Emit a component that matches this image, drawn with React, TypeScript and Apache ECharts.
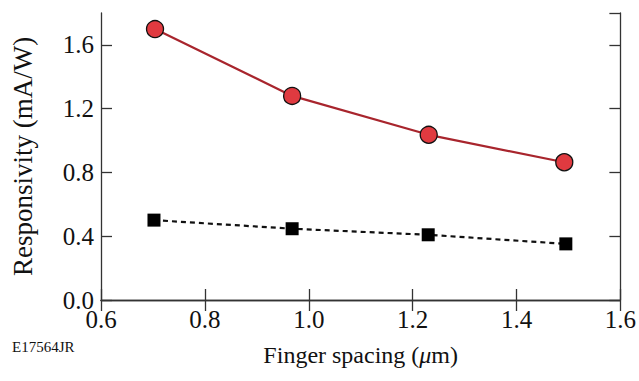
import React, { useEffect, useRef } from "react";
import * as echarts from "echarts";

const spacing = [0.704, 0.968, 1.231, 1.492];
const redValues = [1.699, 1.28, 1.036, 0.864];
const blackSpacing = [0.702, 0.968, 1.23, 1.495];
const blackValues = [0.501, 0.447, 0.409, 0.352];
const xTicks = [0.6, 0.8, 1.0, 1.2, 1.4, 1.6];
const yTicks = [0.0, 0.4, 0.8, 1.2, 1.6];

const FONT = "'Liberation Serif', 'DejaVu Serif', serif";
const AXIS_COLOR = "#333";

export default function App() {
  const ref = useRef<HTMLDivElement>(null);
  useEffect(() => {
    if (!ref.current) return;
    const chart = echarts.init(ref.current, undefined, { renderer: "svg" });
    const axisLine = { show: true, lineStyle: { color: AXIS_COLOR, width: 1.3 } };
    const axisTick = { show: true, inside: true, length: 11, lineStyle: { color: AXIS_COLOR, width: 1.3 } };
    chart.setOption({
      animation: false,
      grid: { left: 101, right: 15, top: 13, bottom: 81, containLabel: false },
      xAxis: [
        {
          type: "value",
          min: xTicks[0],
          max: xTicks[xTicks.length - 1],
          interval: 0.2,
          position: "bottom",
          axisLine,
          axisTick,
          splitLine: { show: false },
          axisLabel: {
            color: "#111",
            fontFamily: FONT,
            fontSize: 25,
            margin: 7,
            formatter: (v: number) => v.toFixed(1),
          },
          name: "{n|Finger spacing (}{i|μ}{n|m)}",
          nameLocation: "middle",
          nameGap: 43,
          nameTextStyle: {
            rich: {
              n: { fontFamily: FONT, fontSize: 24, color: "#111" },
              i: { fontFamily: FONT, fontSize: 24, color: "#111", fontStyle: "italic" },
            },
          },
        },
        {
          type: "value",
          min: xTicks[0],
          max: xTicks[xTicks.length - 1],
          interval: 0.2,
          position: "top",
          axisLine,
          axisTick,
          axisLabel: { show: false },
          splitLine: { show: false },
        },
      ],
      yAxis: [
        {
          type: "value",
          min: yTicks[0],
          max: 1.8,
          interval: 0.4,
          position: "left",
          axisLine,
          axisTick,
          splitLine: { show: false },
          axisLabel: {
            color: "#111",
            fontFamily: FONT,
            fontSize: 25,
            margin: 7,
            showMaxLabel: false,
            formatter: (v: number) => (v > 1.7 ? "" : v.toFixed(1)),
          },
          name: "Responsivity (mA/W)",
          nameLocation: "middle",
          nameGap: 65,
          nameTextStyle: { fontFamily: FONT, fontSize: 27, color: "#111" },
        },
        {
          type: "value",
          min: yTicks[0],
          max: 1.8,
          interval: 0.4,
          position: "right",
          axisLine,
          axisTick,
          axisLabel: { show: false },
          splitLine: { show: false },
        },
      ],
      graphic: [
        {
          type: "text",
          left: 12,
          top: 339,
          style: { text: "E17564JR", fontFamily: FONT, fontSize: 15, fill: "#111" },
        },
      ],
      series: [
        {
          type: "line",
          data: spacing.map((x, i) => [x, redValues[i]]),
          xAxisIndex: 0,
          yAxisIndex: 0,
          symbol: "circle",
          symbolSize: 17,
          lineStyle: { color: "#a8252d", width: 2.2 },
          itemStyle: { color: "#e03a40", borderColor: "#111", borderWidth: 1.3 },
        },
        {
          type: "line",
          data: blackSpacing.map((x, i) => [x, blackValues[i]]),
          xAxisIndex: 0,
          yAxisIndex: 0,
          symbol: "rect",
          symbolSize: 13,
          lineStyle: { color: "#111", width: 2.2, type: [5, 4] },
          itemStyle: { color: "#000" },
        },
      ],
    });
    return () => chart.dispose();
  }, []);
  return <div ref={ref} style={{ width: 639, height: 381, position: "absolute", left: 0, top: 0 }} />;
}
